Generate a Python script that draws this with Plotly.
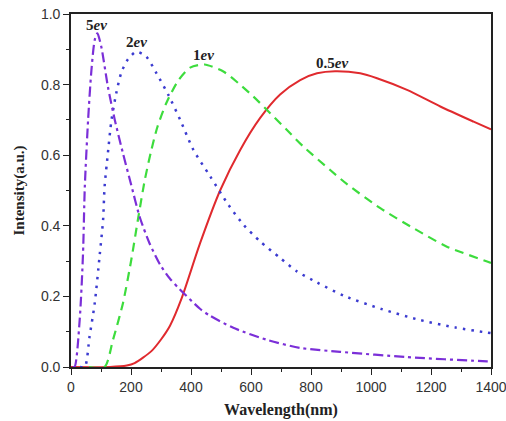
import plotly.graph_objects as go

# 0.5 eV (red, solid)
wl_05 = [0, 130, 186, 212, 268, 300, 330, 369, 430, 497, 564, 630, 697, 764, 820, 880, 964, 1020, 1120, 1231, 1342, 1400]
int_05 = [0.0, 0.0, 0.004, 0.011, 0.045, 0.078, 0.117, 0.195, 0.35, 0.5, 0.615, 0.705, 0.772, 0.813, 0.832, 0.838, 0.832, 0.818, 0.785, 0.738, 0.695, 0.673]

# 1 eV (green, dashed)
wl_1 = [60, 112, 140, 173, 201, 223, 246, 268, 288, 319, 358, 397, 445, 508, 558, 608, 664, 719, 775, 864, 920, 1031, 1142, 1253, 1387, 1400]
int_1 = [0.0, 0.0, 0.077, 0.18, 0.304, 0.417, 0.53, 0.615, 0.68, 0.75, 0.812, 0.848, 0.857, 0.837, 0.804, 0.766, 0.719, 0.672, 0.624, 0.558, 0.518, 0.45, 0.393, 0.341, 0.299, 0.295]

# 2 eV (blue, dotted)
wl_2 = [30, 46, 62, 79, 96, 107, 112, 123, 135, 151, 168, 190, 218, 251, 285, 325, 364, 408, 464, 525, 575, 630, 697, 753, 819, 912, 1036, 1159, 1281, 1375, 1400]
int_2 = [0.0, 0.0, 0.087, 0.18, 0.32, 0.417, 0.511, 0.606, 0.70, 0.776, 0.835, 0.872, 0.893, 0.879, 0.832, 0.77, 0.70, 0.615, 0.54, 0.459, 0.403, 0.356, 0.309, 0.271, 0.24, 0.201, 0.164, 0.134, 0.112, 0.099, 0.096]

# 5 eV (purple, dash-dot)
wl_5 = [5, 12, 29, 40, 46, 57, 68, 79, 88, 101, 123, 146, 173, 201, 229, 262, 297, 330, 364, 430, 464, 541, 653, 764, 897, 1120, 1387, 1400]
int_5 = [0.0, 0.0, 0.134, 0.32, 0.51, 0.70, 0.84, 0.926, 0.945, 0.907, 0.794, 0.70, 0.606, 0.515, 0.425, 0.35, 0.29, 0.25, 0.219, 0.165, 0.145, 0.111, 0.077, 0.054, 0.043, 0.028, 0.016, 0.016]

labels = ["0.5<i>ev</i>", "1<i>ev</i>", "2<i>ev</i>", "5<i>ev</i>"]
label_x = [870, 441, 219, 86]
label_y = [0.861, 0.884, 0.922, 0.969]

x_ticks = [0, 200, 400, 600, 800, 1000, 1200, 1400]
y_ticks = [0.0, 0.2, 0.4, 0.6, 0.8, 1.0]

fig = go.Figure()
fig.add_trace(go.Scatter(x=wl_05, y=int_05, mode="lines", line=dict(color="#e02a2e", width=2, shape="spline", smoothing=0.7)))
fig.add_trace(go.Scatter(x=wl_1, y=int_1, mode="lines", line=dict(color="#3ddc3d", width=2.2, dash="9px,6px", shape="spline", smoothing=0.7)))
fig.add_trace(go.Scatter(x=wl_2, y=int_2, mode="lines", line=dict(color="#3b3bd0", width=2.5, dash="2.5px,6px", shape="spline", smoothing=0.7)))
fig.add_trace(go.Scatter(x=wl_5, y=int_5, mode="lines", line=dict(color="#7b2fd8", width=2.2, dash="10px,4px,3px,4px", shape="spline", smoothing=0.7)))

for t, xx, yy in zip(labels, label_x, label_y):
    fig.add_annotation(x=xx, y=yy, text="<b>" + t + "</b>", showarrow=False,
                       font=dict(family="Liberation Serif", size=15, color="#222"))

axis_common = dict(showline=True, linecolor="#222", linewidth=1.6, mirror=True,
                   ticks="outside", ticklen=6, tickwidth=1.4, tickcolor="#222",
                   showgrid=False, zeroline=False, ticklabeloverflow="allow", automargin=False,
                   tickfont=dict(family="Liberation Sans", size=14, color="#333"))

fig.update_xaxes(range=[0, 1400], tickvals=x_ticks, ticktext=[str(v) for v in x_ticks],
                 minor=dict(ticks="outside", ticklen=3.5, tickwidth=1.2, tickcolor="#222", dtick=100, tick0=0),
                 title=dict(text="<b>Wavelength(nm)</b>", font=dict(family="Liberation Serif", size=16, color="#222"), standoff=10),
                 **axis_common)
fig.update_yaxes(range=[0, 1.0], tickvals=y_ticks, ticktext=["%.1f" % v for v in y_ticks],
                 minor=dict(ticks="outside", ticklen=3.5, tickwidth=1.2, tickcolor="#222", dtick=0.1, tick0=0),
                 title=dict(text="<b>Intensity(a.u.)</b>", font=dict(family="Liberation Serif", size=15, color="#222"), standoff=13),
                 **axis_common)

fig.update_layout(width=506, height=421, showlegend=False,
                  margin=dict(l=71, r=15, t=14, b=54),
                  plot_bgcolor="white", paper_bgcolor="white")

fig.write_html("out.html", config={"displayModeBar": False},
               post_script="document.body.style.margin='0';document.body.style.overflow='hidden';")
